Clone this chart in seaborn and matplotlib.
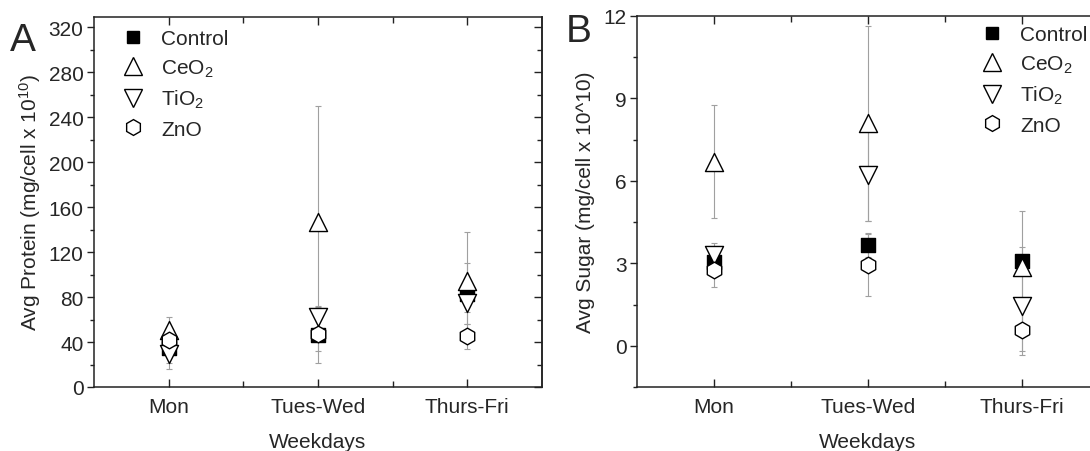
import numpy as np
import pandas as pd
import matplotlib
matplotlib.use("Agg")
import matplotlib.pyplot as plt
import seaborn as sns
from matplotlib.lines import Line2D
from matplotlib.ticker import MultipleLocator

# data
days = ["Mon", "Tues-Wed", "Thurs-Fri"]
groups = ["Control", "CeO2", "TiO2", "ZnO"]

protein_control = [35, 46, 83]
protein_ceo2 = [51, 147, 94]
protein_tio2 = [29, 62, 75]
protein_zno = [42, 47, 45]
protein_control_err = [14, 25, 27]
protein_ceo2_err = [11, 103, 44]
protein_tio2_err = [13, 10, 8]
protein_zno_err = [7, 15, 11]

sugar_control = [3.05, 3.65, 3.1]
sugar_ceo2 = [6.7, 8.1, 2.85]
sugar_tio2 = [3.3, 6.2, 1.45]
sugar_zno = [2.75, 2.95, 0.57]
sugar_control_err = [0.2, 0.42, 0.5]
sugar_ceo2_err = [2.05, 3.55, 2.05]
sugar_tio2_err = [0.45, 1.65, 1.8]
sugar_zno_err = [0.6, 1.15, 0.75]

labels = {"Control": "Control", "CeO2": "CeO$_2$", "TiO2": "TiO$_2$", "ZnO": "ZnO"}
markers = {"Control": "s", "CeO2": "^", "TiO2": "v", "ZnO": "h"}
faces = {"Control": "black", "CeO2": "white", "TiO2": "white", "ZnO": "white"}
msize = {"Control": 9.5, "CeO2": 13, "TiO2": 13, "ZnO": 12}

sns.set_style("white")
plt.rcParams["font.family"] = ["Liberation Sans", "DejaVu Sans"]
plt.rcParams["mathtext.default"] = "regular"
FS = 15


def make_df(vals, errs):
    rows = []
    for g in groups:
        for i, d in enumerate(days):
            rows.append({"day": d, "group": g, "value": vals[g][i], "err": errs[g][i]})
    return pd.DataFrame(rows)


prot = make_df({"Control": protein_control, "CeO2": protein_ceo2, "TiO2": protein_tio2, "ZnO": protein_zno},
               {"Control": protein_control_err, "CeO2": protein_ceo2_err, "TiO2": protein_tio2_err, "ZnO": protein_zno_err})
sug = make_df({"Control": sugar_control, "CeO2": sugar_ceo2, "TiO2": sugar_tio2, "ZnO": sugar_zno},
              {"Control": sugar_control_err, "CeO2": sugar_ceo2_err, "TiO2": sugar_tio2_err, "ZnO": sugar_zno_err})

fig = plt.figure(figsize=(10.9, 4.52), dpi=100)
axA = fig.add_axes([0.0862, 0.1416, 0.411, 0.8186])
axB = fig.add_axes([0.5844, 0.1416, 0.4239, 0.821])


def draw(ax, df, ylim, major, minor, ylabel, ylabelpad, legend_anchor):
    xpos = np.arange(len(days))
    for k, g in enumerate(groups):
        sub = df[df["group"] == g]
        ax.errorbar(xpos, sub["value"], yerr=sub["err"], fmt="none", ecolor="#a0a0a0",
                    elinewidth=0.8, capsize=2.5, capthick=0.8, zorder=1)
    for k, g in enumerate(groups):
        sub = df[df["group"] == g]
        sns.scatterplot(data=sub, x="day", y="value", marker=markers[g], s=msize[g] ** 2,
                        color=faces[g], edgecolor="black", linewidth=1.0, ax=ax,
                        zorder=3 + k, legend=False)
    ax.set_xlim(-0.5, 2.5)
    ax.set_ylim(*ylim)
    ax.yaxis.set_major_locator(MultipleLocator(major))
    ax.yaxis.set_minor_locator(MultipleLocator(minor))
    ax.set_xticks(xpos)
    ax.set_xticklabels(days)
    ax.set_xticks([0.5, 1.5], minor=True)
    ax.tick_params(axis="x", which="both", direction="in", top=True, bottom=True,
                   labelsize=FS, pad=7, color="#222222")
    ax.tick_params(axis="x", which="major", length=6, width=1)
    ax.tick_params(axis="x", which="minor", length=4, width=1)
    ax.tick_params(axis="y", which="both", direction="out", left=True, right=False,
                   labelsize=FS, pad=2.5, color="#222222")
    ax.tick_params(axis="y", which="major", length=5, width=1)
    ax.tick_params(axis="y", which="minor", length=3, width=1)
    sec = ax.secondary_yaxis("right")
    sec.yaxis.set_major_locator(MultipleLocator(major))
    sec.yaxis.set_minor_locator(MultipleLocator(minor))
    sec.tick_params(which="both", direction="in", labelright=False, color="#222222")
    sec.tick_params(which="major", length=6, width=1)
    sec.tick_params(which="minor", length=3.5, width=1)
    sec.spines["right"].set_linewidth(1.1)
    sec.spines["right"].set_color("#222222")
    for s in ax.spines.values():
        s.set_linewidth(1.1)
        s.set_color("#222222")
    ax.set_xlabel("Weekdays", fontsize=FS, labelpad=12)
    ax.set_ylabel(ylabel, fontsize=FS, labelpad=ylabelpad)
    handles = [Line2D([], [], linestyle="none", marker=markers[g], markersize=msize[g] * 0.95,
                      markerfacecolor=faces[g], markeredgecolor="black", markeredgewidth=1.0)
               for g in groups]
    ax.legend(handles, [labels[g] for g in groups], loc="upper left", bbox_to_anchor=legend_anchor,
              frameon=False, fontsize=15, handlelength=0.8, handletextpad=0.95,
              labelspacing=0.45, borderaxespad=0)


draw(axA, prot, (0, 329), 40, 20, "Avg Protein (mg/cell x 10$^{10}$)", 4, (0.05, 0.99))
draw(axB, sug, (-1.5, 12), 3, 1.5, "Avg Sugar (mg/cell x 10^10)", 6, (0.733, 0.998))

fig.text(0.009, 0.95, "A", fontsize=28, va="top", ha="left")
fig.text(0.519, 0.97, "B", fontsize=28, va="top", ha="left")

fig.savefig("out.png", dpi=100)
